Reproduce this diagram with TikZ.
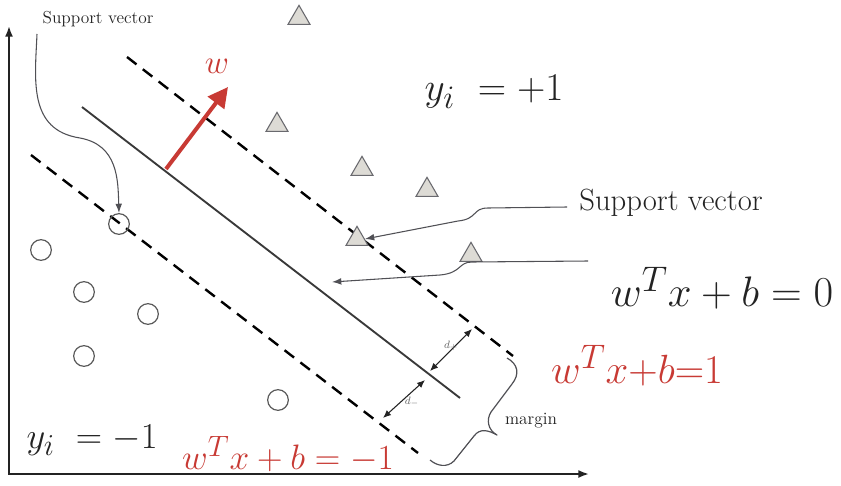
\documentclass[tikz,border=0pt]{standalone}
\usetikzlibrary{arrows.meta,shapes.geometric}
\definecolor{svmred}{RGB}{200,58,52}
\definecolor{ink}{RGB}{35,35,35}
\definecolor{trifill}{RGB}{221,219,213}
\definecolor{triedge}{RGB}{105,105,110}
\definecolor{leadgray}{RGB}{80,80,85}
\begin{document}
\begin{tikzpicture}[x=0.75pt,y=-0.75pt,
  axis/.style={draw=ink,line width=1.5pt,{Latex[length=8pt,width=6pt]}-{Latex[length=8pt,width=6pt]}},
  hyper/.style={draw=ink!90,line width=1.4pt},
  marginline/.style={draw=black,line width=1.8pt,dash pattern=on 9pt off 6pt},
  leader/.style={draw=leadgray,line width=0.8pt,-{Latex[length=7pt,width=5pt]}},
  darrow/.style={draw=ink,line width=0.8pt,{Latex[length=6pt,width=5pt]}-{Latex[length=6pt,width=5pt]}},
  bracestyle/.style={draw=leadgray,line width=0.9pt,line join=round},
  tri/.style={regular polygon,regular polygon sides=3,minimum size=19pt,inner sep=0pt,fill=trifill,draw=triedge,line width=0.8pt},
  pt/.style={circle,minimum size=15.5pt,inner sep=0pt,draw=black!65,line width=0.9pt},
  lbl/.style={inner sep=0pt,text=ink},
  big/.style={font=\fontsize{24.88}{28}\selectfont}
]
\useasboundingbox[fill=white] (0,0) rectangle (841,485);
% axes
\coordinate (yend) at (9,26);
\coordinate (origin) at (9,474);
\coordinate (xend) at (589,474);
\draw[axis] (yend) -- (origin) -- (xend);
% hyperplanes
\coordinate (h1) at (82,107);
\coordinate (h2) at (460,398);
\draw[hyper] (h1) -- (h2);
\coordinate (u1) at (127,57);
\coordinate (u2) at (513,356);
\draw[marginline] (u1) -- (u2);
\coordinate (l1) at (31,155);
\coordinate (l2) at (418,453);
\draw[marginline] (l1) -- (l2);
% class -1 points
\node[pt] (c1) at (119,224) {};
\node[pt] (c2) at (41,250) {};
\node[pt] (c3) at (84,292) {};
\node[pt] (c4) at (148,314) {};
\node[pt] (c5) at (84,356) {};
\node[pt] (c6) at (278,400) {};
% class +1 points
\node[tri] (t1) at (299,18) {};
\node[tri] (t2) at (277,125) {};
\node[tri] (t3) at (362,169) {};
\node[tri] (t4) at (427,190) {};
\node[tri] (t5) at (357,239) {};
\node[tri] (t6) at (471,255) {};
% w vector
\coordinate (wbase) at (166,169);
\coordinate (wtip) at (228,87);
\draw[draw=svmred,line width=3pt,-{Triangle[length=15pt,width=15pt]}] (wbase) -- (wtip);
\node[lbl,big,text=svmred] (wlab) at (217,66) {$w$};
% texts
\node[lbl,font=\fontsize{13}{15}\selectfont] (sv1) at (98,19) {Support vector};
\node[lbl,font=\fontsize{23}{26}\selectfont] (sv2) at (671,203) {Support vector};
\node[lbl,big] (eq0) at (722,288) {\scalebox{1.286}{$w^T x + b = 0$}};
\node[lbl,big] (ypos) at (494,92) {\scalebox{1.186}{$y_i\ = +1$}};
\node[lbl,big] (yneg) at (92,440) {\scalebox{1.10}{$y_i\ = -1$}};
\node[lbl,big,text=svmred] (eqp) at (637,366) {\scalebox{1.23}{$w^T x{+}b{=}1$}};
\node[lbl,big,text=svmred] (eqn) at (288,454) {\scalebox{1.065}{$w^T x + b = -1$}};
\node[lbl,font=\fontsize{13}{15}\selectfont] (mlab) at (531,421) {margin};
% leaders
\coordinate (s1a) at (37,34);
\draw[leader] (s1a) .. controls (35,80) and (28,130) .. (80,138) .. controls (118,145) and (118,180) .. (c1.north);
\coordinate (s2a) at (567,207);
\draw[leader] (s2a) -- (488,208) .. controls (472,208) and (478,219) .. (458,221) -- (t5.east);
\coordinate (s3a) at (588,261);
\coordinate (s3b) at (332,282);
\draw[leader] (s3a) -- (472,262) .. controls (458,262) and (462,273) .. (440,275) -- (s3b);
% distances
\coordinate (dp1) at (430,371);
\coordinate (dp2) at (472,329);
\draw[darrow] (dp1) -- (dp2);
\node[lbl,text=ink!70,font=\fontsize{8}{9}\selectfont] (dplab) at (451,346) {$d_+$};
\coordinate (dm1) at (425,380);
\coordinate (dm2) at (383,418);
\draw[darrow] (dm1) -- (dm2);
\node[lbl,text=ink!70,font=\fontsize{8}{9}\selectfont] (dmlab) at (412,402) {$d_-$};
% margin brace
\coordinate (b1) at (507,358);
\coordinate (btip) at (497,435);
\coordinate (b2) at (430,460);
\draw[bracestyle] (b1) .. controls (518,364) and (520,374) .. (512,384) -- (491,412)
  .. controls (486,420) and (488,430) .. (btip)
  .. controls (488,430) and (480,428) .. (474,436) -- (454,461)
  .. controls (447,468) and (437,466) .. (b2);
\end{tikzpicture}
\end{document}
